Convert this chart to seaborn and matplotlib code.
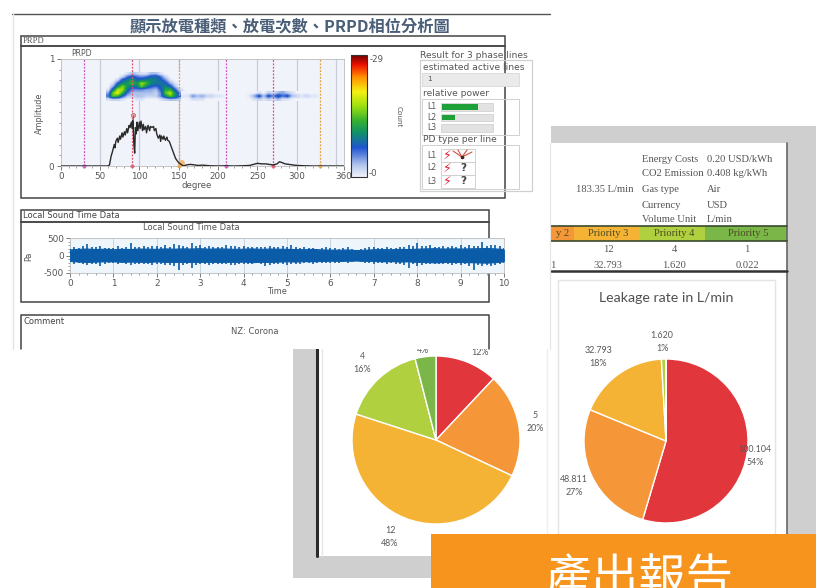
import numpy as np
import pandas as pd
import matplotlib
matplotlib.use("Agg")
import matplotlib.pyplot as plt
from matplotlib.colors import LinearSegmentedColormap, Normalize
from matplotlib.patches import Rectangle
from matplotlib.ticker import MultipleLocator
import seaborn as sns

# PRPD phase trace
trace_deg = [0, 30, 60, 62, 63, 64, 66, 68, 69, 70, 72, 73, 75, 76, 78, 79, 81, 82, 84, 85, 87, 88,
             89, 90, 91, 92, 93, 94, 95, 96, 97, 98, 100, 101, 102, 104, 105, 106, 108, 109, 111, 113,
             114, 116, 118, 119, 121, 122, 124, 126, 127, 128, 130, 131, 133, 135, 136, 138, 140,
             142, 144, 146, 148, 150, 152, 154, 156, 158, 160, 165, 170, 175, 180, 190, 200, 210,
             220, 230, 240, 245, 250, 255, 260, 265, 270, 275, 278, 282, 285, 290, 295, 300, 310,
             320, 330, 345, 360]
trace_amp = [0, 0, 0, 0.01, 0.05, 0.09, 0.14, 0.20, 0.17, 0.23, 0.26, 0.22, 0.28, 0.25, 0.31, 0.27,
             0.32, 0.29, 0.35, 0.31, 0.38, 0.36, 0.39, 0.41, 0.35, 0.43, 0.20, 0.12, 0.36, 0.30, 0.41,
             0.33, 0.41, 0.35, 0.42, 0.33, 0.39, 0.34, 0.37, 0.31, 0.38, 0.33, 0.37, 0.36, 0.37, 0.33,
             0.35, 0.30, 0.26, 0.29, 0.23, 0.28, 0.25, 0.28, 0.24, 0.27, 0.24, 0.23, 0.19, 0.15,
             0.11, 0.07, 0.05, 0.03, 0.02, 0.01, 0.0, 0.005, 0.01, 0.015, 0.01, 0.005, 0.008, 0.002, 0.0, 0.002,
             0.0, 0.002, 0.005, 0.015, 0.025, 0.02, 0.02, 0.015, 0.01, 0.02, 0.04, 0.03, 0.02, 0.015,
             0.01, 0.005, 0.002, 0.0, 0.0, 0.0, 0.0]
phase_deg = [30, 90, 150, 210, 270, 330]
phase_col = ["#D050C0", "#E05070", "#E0A040", "#D050C0", "#E05070", "#E0A040"]

# PRPD counts, one row per amplitude band (top row first)
arch_deg = [60, 66, 72, 78, 84, 90, 96, 102, 108, 114, 120, 126, 132, 138, 144, 150, 156]
arch_amp = [0.86, 0.83, 0.80, 0.77, 0.74, 0.71, 0.68, 0.65, 0.62]
arch_counts = [
    [0, 0, 0, 0, 1, 3, 2, 1, 1, 3, 3, 1, 0, 0, 0, 0, 0],
    [0, 0, 0, 2, 6, 8, 6, 5, 6, 8, 9, 6, 2, 0, 0, 0, 0],
    [0, 0, 2, 8, 9, 12, 8, 9, 10, 10, 9, 8, 5, 1, 0, 0, 0],
    [0, 1, 7, 10, 11, 14, 11, 17, 14, 10, 9, 9, 8, 4, 1, 0, 0],
    [0, 4, 11, 16, 11, 9, 9, 15, 10, 7, 6, 8, 10, 8, 3, 0, 0],
    [1, 9, 18, 17, 9, 5, 5, 5, 4, 4, 3, 7, 12, 13, 7, 2, 0],
    [4, 16, 20, 13, 6, 3, 3, 3, 3, 3, 2, 5, 15, 18, 11, 5, 1],
    [6, 15, 13, 7, 3, 2, 3, 3, 2, 2, 2, 5, 10, 15, 11, 7, 3],
    [1, 2, 2, 1, 0, 0, 1, 1, 0, 0, 0, 1, 2, 3, 3, 2, 1],
]
stripe_deg = [156, 162, 168, 174, 180, 186, 192, 198, 204, 210, 216, 222, 228, 234, 240, 246, 252,
              258, 264, 270, 276, 282, 288, 294, 300, 306, 312, 318, 324, 330]
stripe_amp = [0.685, 0.655, 0.625]
stripe_counts = [
    [0, 0, 0, 0, 0, 0, 0, 0, 0, 0, 0, 0, 0, 0, 0, 0, 1, 0, 2, 1, 3, 4, 2, 1, 0, 0, 0, 0, 0, 0],
    [1, 1, 5, 3, 4, 2, 2, 1, 1, 0, 0, 0, 0, 0, 1, 4, 8, 3, 8, 5, 9, 6, 8, 3, 2, 1, 2, 1, 1, 0],
    [0, 0, 1, 1, 1, 0, 0, 0, 0, 0, 0, 0, 0, 0, 0, 1, 2, 1, 2, 1, 3, 1, 1, 0, 0, 0, 0, 0, 0, 0],
]

# Local sound: solid core every 0.2 s, spike tips every 0.1 s
core_upper = [160, 175, 185, 170, 180, 165, 175, 170, 185, 180, 175, 190, 180, 190, 185, 195, 180, 190, 185, 175,
              180, 190, 175, 185, 180, 175, 170, 165, 175, 160, 155, 150, 160, 140, 150, 165, 170, 165, 175, 170,
              180, 190, 195, 185, 190, 185, 190, 195, 200, 190, 170]
core_lower = [-160, -175, -185, -175, -170, -170, -180, -175, -180, -185, -170, -185, -190, -185, -190, -185, -180, -190, -180, -185,
              -175, -195, -180, -190, -175, -170, -175, -165, -170, -160, -150, -155, -150, -145, -155, -160, -170, -165, -175, -170,
              -185, -190, -200, -190, -185, -190, -195, -200, -205, -195, -165]
sound_upper = [185, 230, 220, 265, 335, 255, 240, 280, 225, 220, 215, 265, 215, 240, 355, 255, 250, 280,
               240, 280, 265, 245, 310, 255, 325, 305, 265, 250, 350, 265, 290, 255, 270, 245, 250, 240,
               300, 270, 280, 245, 265, 240, 230, 255, 240, 250, 280, 255, 245, 270, 230, 300, 240, 220,
               245, 215, 220, 200, 215, 240, 205, 220, 195, 205, 230, 190, 165, 190, 215, 230, 245, 225,
               220, 250, 215, 225, 245, 250, 305, 265, 350, 280, 270, 290, 255, 250, 270, 245, 275, 240,
               295, 250, 310, 265, 280, 385, 280, 300, 305, 270, 220]
sound_lower = [-185, -240, -220, -250, -280, -255, -230, -305, -240, -225, -215, -230, -220, -250, -265, -240,
               -245, -255, -250, -280, -255, -245, -265, -270, -290, -420, -280, -250, -360, -265, -250,
               -245, -270, -240, -255, -230, -250, -280, -265, -240, -255, -240, -245, -225, -250, -290,
               -265, -250, -240, -255, -270, -240, -230, -245, -220, -215, -230, -205, -225, -215, -200,
               -225, -215, -195, -215, -190, -170, -195, -215, -220, -240, -215, -225, -240, -220, -230,
               -245, -265, -355, -250, -290, -270, -245, -255, -250, -240, -255, -245, -265, -230, -275,
               -250, -290, -420, -270, -300, -275, -290, -280, -255, -210]

# pies
pie_colors = ["#E0363C", "#F59738", "#F5B335", "#B0D040", "#7AB648"]
count_values = [3, 5, 12, 4, 1]
leak_values = [100.104, 48.811, 32.793, 1.620, 0.022]

# table text
priority_names = ["y 2", "Priority 3", "Priority 4", "Priority 5"]
priority_counts = ["12", "4", "1"]
priority_leak = ["1", "32.793", "1.620", "0.022"]
info_names = ["Energy Costs", "CO2 Emission", "Gas type", "Currency", "Volume Unit"]
info_values = ["0.20 USD/kWh", "0.408 kg/kWh", "Air", "USD", "L/min"]

sns.set_theme(style="white")
plt.rcParams["font.family"] = ["DejaVu Sans", "Noto Sans CJK TC"]

W, H = 816, 588
fig = plt.figure(figsize=(W / 100, H / 100), dpi=100, facecolor="white")


# axes placed with picture pixels
def px_axes(x0, y0, x1, y1, z):
    ax = fig.add_axes([x0 / W, 1 - y1 / H, (x1 - x0) / W, (y1 - y0) / H], zorder=z)
    return ax


def overlay(z):
    ax = px_axes(0, 0, W, H, z)
    ax.set_xlim(0, W)
    ax.set_ylim(H, 0)
    ax.axis("off")
    ax.patch.set_alpha(0)
    return ax


def box(ax, x0, y0, x1, y1, fc="none", ec="none", lw=1.0, z=1):
    ax.add_patch(Rectangle((x0, y0), x1 - x0, y1 - y0, fc=fc, ec=ec, lw=lw, zorder=z))


# second report, behind everything
back = overlay(0)
box(back, 293, 126, 816, 578, fc="#CFCFCF")
box(back, 316, 143, 787, 556, fc="white")
back.plot([787, 787], [143, 556], color="#666666", lw=1.2)
back.plot([316.5, 316.5], [340, 556], color="#2A2A2A", lw=2.2)
back.plot([322, 322], [349, 556], color="#E8E8E8", lw=1.0)
back.plot([547, 547], [349, 534], color="#EEEEEE", lw=1.0)
box(back, 558, 280, 775, 540, ec="#E4E4E4", lw=1.0)

serif = "Liberation Serif"
for i in range(5):
    yy = [159, 174, 190, 205, 219][i]
    back.text(642, yy, info_names[i], family=serif, fontsize=7.6, color="#555555", va="center")
    back.text(707, yy, info_values[i], family=serif, fontsize=7.6, color="#555555", va="center")
back.text(605, 190, "183.35 L/min", family=serif, fontsize=7.6, color="#555555", ha="center", va="center")

band_edges = [551, 574, 640, 705, 787]
band_cols = pie_colors[1:]
band_mid = [563, 608, 674, 748]
for i in range(4):
    box(back, band_edges[i], 226, band_edges[i + 1], 241, fc=band_cols[i])
    back.text(band_mid[i], 234, priority_names[i], family=serif, fontsize=7.6, color="#4A4A20",
              ha="center", va="center", zorder=3)
back.plot([551, 787], [226, 226], color="#3A4A30", lw=1.2, zorder=3)
back.plot([551, 787], [241, 241], color="#3A4A30", lw=1.2, zorder=3)
back.plot([551, 787], [271, 271], color="#333333", lw=1.8, zorder=3)
for x, s in zip([608, 674, 747], priority_counts):
    back.text(x, 250, s, family=serif, fontsize=7.6, color="#555555", ha="center", va="center")
for x, s in zip([553, 608, 674, 747], priority_leak):
    back.text(x, 265, s, family=serif, fontsize=7.6, color="#555555", ha="center", va="center")
back.text(666, 298, "Leakage rate in L/min", family="Lato", fontsize=10.2, color="#505050",
          ha="center", va="center")

# pies
for cx, cy, r, vals in [(436, 440, 84, count_values), (666, 441, 82, leak_values)]:
    ax = px_axes(cx - r, cy - r, cx + r, cy + r, 1)
    ax.pie(vals, colors=pie_colors, startangle=90, counterclock=False,
           wedgeprops=dict(edgecolor="white", linewidth=1.0))
    ax.set_xlim(-1, 1)
    ax.set_ylim(-1, 1)

# pie labels sit over the pies but behind the first report, which hides the clipped ones
labels = overlay(1.5)
pie_text = dict(fontsize=6.4, color="#595959", ha="center", va="center", linespacing=1.5, family="Lato")
for x, y, s in [(480, 346, "3\n12%"), (423, 344, "1\n4%"), (535, 422, "5\n20%"), (362, 363, "4\n16%"),
                (390, 537, "12\n48%"), (755, 456, "100.104\n54%"), (574, 486, "48.811\n27%"),
                (598, 357, "32.793\n18%"), (662, 342, "1.620\n1%")]:
    labels.text(x, y, s, **pie_text)

# first report on top of the second one
front = overlay(2)
box(front, 12, 13, 550.5, 349, fc="white")
front.plot([12, 550], [13.5, 13.5], color="#555555", lw=1.0)
front.plot([13, 13], [13, 349], color="#E4E4E4", lw=1.0)
front.plot([550, 550], [143, 349], color="#E4E4E4", lw=0.8)
front.text(130, 26, "顯示放電種類、放電次數、PRPD相位分析圖", fontsize=11.7, color="#4A5E78",
           fontweight="bold", ha="left", va="center", family=["Noto Sans CJK TC", "DejaVu Sans"])

frame = "#444444"
box(front, 20.5, 35.5, 505, 46, ec=frame, lw=1.1)
box(front, 20.5, 46, 505, 197.5, ec=frame, lw=1.1)
front.text(23, 41, "PRPD", family=serif, fontsize=6.2, color="#555555", va="center")
box(front, 21, 209.5, 489, 222, ec=frame, lw=1.1)
box(front, 21, 222, 489, 302, ec=frame, lw=1.1)
front.text(23, 216, "Local Sound Time Data", fontsize=6.0, color="#444444", va="center")
front.text(191, 228, "Local Sound Time Data", fontsize=6.0, color="#555555", ha="center", va="center")
front.plot([21, 21, 489, 489], [349, 315, 315, 349], color=frame, lw=1.1)
front.text(23, 321, "Comment", fontsize=6.0, color="#444444", va="center")
front.text(255, 332, "NZ: Corona", fontsize=6.0, color="#555555", ha="center", va="center")

# PRPD plot
prpd_cmap = LinearSegmentedColormap.from_list("prpd", [
    (0.0, "#F1F3FB"), (0.10, "#AFC3EC"), (0.24, "#1E55D0"), (0.36, "#0F8F6A"), (0.46, "#35B030"),
    (0.58, "#9BE010"), (0.70, "#F5F010"), (0.82, "#FF9000"), (0.92, "#F01000"), (1.0, "#700000")])
norm = Normalize(0, 29)

ax = px_axes(60.7, 59, 344, 166, 3)
ax.set_facecolor("#F1F3FB")
for d in [50, 100, 150, 200, 250, 300, 350]:
    ax.axvline(d, color="#C8CCD8", lw=0.9, zorder=1)
ax.imshow(arch_counts, cmap=prpd_cmap, norm=norm, aspect="auto", interpolation="bilinear", zorder=2,
          extent=[arch_deg[0] - 3, arch_deg[-1] + 3, arch_amp[-1] - 0.015, arch_amp[0] + 0.015])
ax.imshow(stripe_counts, cmap=prpd_cmap, norm=norm, aspect="auto", interpolation="bilinear", zorder=2,
          extent=[stripe_deg[0] - 3, stripe_deg[-1] + 3, stripe_amp[-1] - 0.015, stripe_amp[0] + 0.015])
for d, c in zip(phase_deg, phase_col):
    ax.axvline(d, color=c, lw=0.9, ls=(0, (1.5, 1.2)), zorder=3)
    ax.plot([d], [0], marker="o", ms=2, color=c, alpha=0.7, zorder=3, clip_on=False)
trace = pd.DataFrame({"degree": trace_deg, "amplitude": trace_amp})
sns.lineplot(data=trace, x="degree", y="amplitude", color="#2A2A2A", lw=1.0, estimator=None, ax=ax, zorder=4)
ax.plot([92], [0.48], marker="o", ms=3, mfc="#E8A0A0", mec="#B06060", mew=0.5, zorder=5)
ax.plot([92, 92], [0.43, 0.48], color="#B06060", lw=0.7, zorder=5)
ax.plot([153], [0.03], marker="o", ms=4, color="#F5B060", alpha=0.8, zorder=3)
ax.set_xlim(0, 360)
ax.set_ylim(0, 1)
ax.set_xlabel("")
ax.set_ylabel("")
ax.set_xticks([0, 50, 100, 150, 200, 250, 300, 360])
ax.set_xticklabels(["0", "50", "100", "150", "200", "250", "300", "360"])
ax.set_yticks([0, 1])
ax.set_yticklabels(["0", "1"])
ax.xaxis.set_minor_locator(MultipleLocator(10))
ax.yaxis.set_minor_locator(MultipleLocator(0.1))
ax.tick_params(which="major", length=3, width=0.6, color="#666666", labelsize=6.3, labelcolor="#555555",
               pad=1.5, bottom=True, left=True)
ax.tick_params(which="minor", length=1.5, width=0.5, color="#777777", bottom=True, left=True)
for s in ax.spines.values():
    s.set_color("#BBBBBB")
    s.set_linewidth(0.6)

# colorbar
cax = px_axes(350.5, 55, 367, 177, 3)
cb = fig.colorbar(plt.cm.ScalarMappable(norm=norm, cmap=prpd_cmap), cax=cax)
cb.set_ticks([])
cb.outline.set_edgecolor("#333333")
cb.outline.set_linewidth(0.8)

# sound plot
spike_t = np.arange(len(sound_upper)) / 10
core_t = np.arange(len(core_upper)) / 5
ax2 = px_axes(70, 238, 504, 273, 3)
ax2.set_facecolor("#EEF6FB")
for t in range(1, 10):
    ax2.axvline(t, color="#C8D2DC", lw=0.7, zorder=1)
ax2.fill_between(core_t, core_lower, core_upper, color="#0B5CA8", lw=0.6, zorder=3)
sns.lineplot(x=core_t, y=core_upper, color="#0B5CA8", lw=0.8, estimator=None, ax=ax2, zorder=3)
sns.lineplot(x=core_t, y=core_lower, color="#0B5CA8", lw=0.8, estimator=None, ax=ax2, zorder=3)
ax2.vlines(spike_t, sound_lower, sound_upper, color="#0B5CA8", lw=1.2, zorder=3)
ax2.set_xlim(0, 10)
ax2.set_ylim(-500, 500)
ax2.set_xticks(range(11))
ax2.xaxis.set_minor_locator(MultipleLocator(0.2))
ax2.set_yticks([-500, 0, 500])
ax2.yaxis.set_minor_locator(MultipleLocator(100))
ax2.set_yticklabels(["-500", "0", "500"])
ax2.tick_params(which="major", length=3, width=0.6, color="#666666", labelsize=6.4, labelcolor="#555555",
                pad=1.5, bottom=True, left=True)
ax2.tick_params(which="minor", length=1.5, width=0.5, color="#777777", bottom=True, left=True)
for s in ax2.spines.values():
    s.set_color("#BBBBBB")
    s.set_linewidth(0.6)

# labels and right hand panel
top = overlay(4)
small = dict(color="#555555", ha="center", va="center")
top.text(82, 54, "PRPD", fontsize=5.6, **small)
top.text(39, 113, "Amplitude", fontsize=5.8, rotation=90, **small)
top.text(197, 186, "degree", fontsize=6.2, **small)
top.text(29, 256, "Pa", fontsize=5.8, rotation=90, **small)
top.text(277, 291, "Time", fontsize=5.8, **small)
top.text(399, 117, "Count", fontsize=5.2, rotation=-90, **small)
top.text(370, 59, "-29", fontsize=6.2, color="#555555", va="center")
top.text(369, 174, "-0", fontsize=6.2, color="#555555", va="center")

box(top, 420, 60, 531.5, 191, ec="#D0D0D0", lw=0.9)
panel = dict(color="#555555", va="center", fontsize=6.6)
top.text(420, 56, "Result for 3 phase lines", **panel)
top.text(423, 68, "estimated active lines", **panel)
box(top, 422, 73, 519, 86, fc="#EAEAEA", ec="#D8D8D8", lw=0.6)
top.text(427, 79, "1", color="#555555", fontsize=5.4, va="center", zorder=3)
top.text(423, 93, "relative power", **panel)
box(top, 422, 99, 519, 135, ec="#D0D0D0", lw=0.7)
top.text(423, 139, "PD type per line", **panel)
box(top, 422, 145, 519, 189, ec="#D0D0D0", lw=0.7)

relative_power = [0.71, 0.26, 0.0]
for i, v in enumerate(relative_power):
    y0 = [103, 113.5, 124][i]
    top.text(432, y0 + 3.5, f"L{i + 1}", fontsize=5.6, **small)
    box(top, 441, y0, 493, y0 + 7.5, fc="#E2E2E2", ec="#CCCCCC", lw=0.5)
    box(top, 442, y0 + 1, 442 + 50 * v, y0 + 6.5, fc="#1FA038", z=2)
    yc = [155, 168, 181][i]
    top.text(432, yc, f"L{i + 1}", fontsize=5.6, **small)
    box(top, 441, yc - 6.5, 475, yc + 6.5, fc="white", ec="#CCCCCC", lw=0.6)
    top.text(447, yc, "\u26a1", fontsize=9, color="#E02030", ha="center", va="center", zorder=3)
    if i > 0:
        top.text(463, yc, "?", fontsize=7.5, fontweight="bold", color="#444444", ha="center", va="center", zorder=3)
# little corona mark for L1
for xe, ye in [(453, 151), (458, 150), (467, 150), (472, 152)]:
    top.plot([462, xe], [157, ye], color="#D05040", lw=0.8, zorder=3)
top.plot([462], [157], marker="o", ms=1.6, color="#442222", zorder=4)

# banner
banner = overlay(6)
box(banner, 431, 534, 816, 588, fc="#F7941D")
banner.text(639, 581, "產出報告", fontsize=34, color="white", ha="center", va="center", zorder=3,
            family=["Noto Sans CJK TC", "DejaVu Sans"])

fig.savefig("out.png", dpi=100)
